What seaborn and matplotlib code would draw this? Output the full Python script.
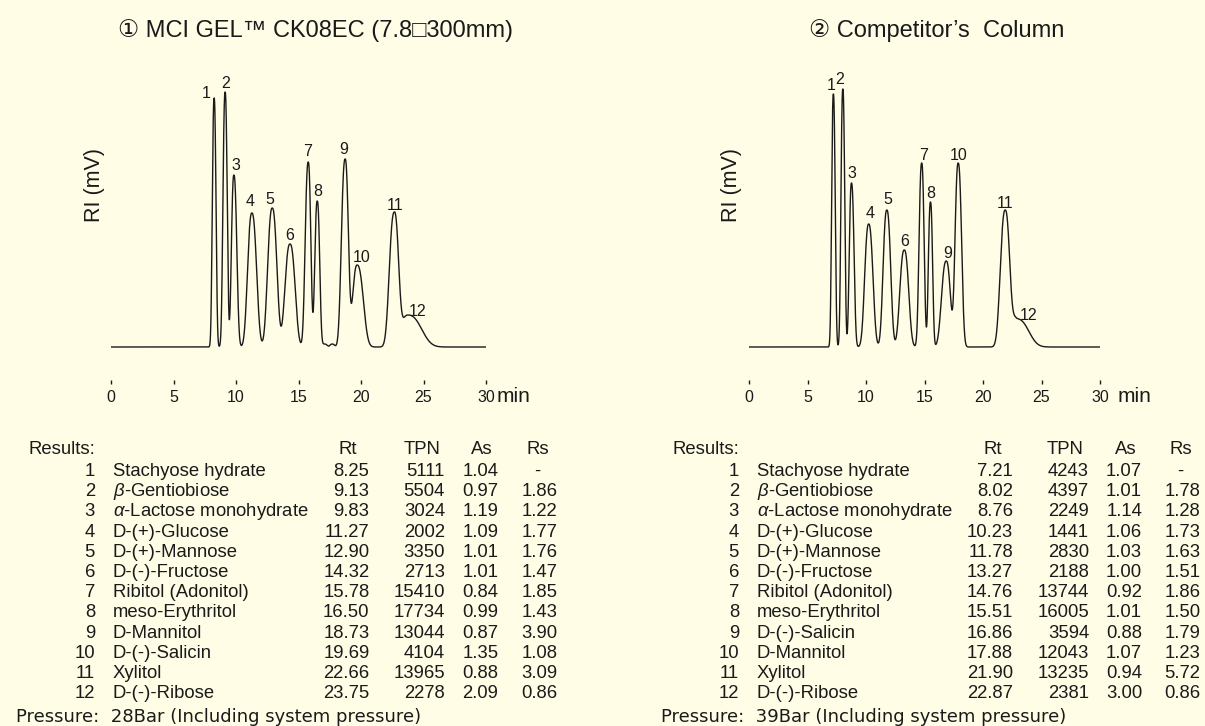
import numpy as np
import pandas as pd
import matplotlib
matplotlib.use("Agg")
import matplotlib.pyplot as plt
import seaborn as sns

# ---------------- data ----------------
peak_no = list(range(1, 13))

left_title = "\u2460 MCI GEL\u2122 CK08EC (7.8\u25a1300mm)"
left_names = ["Stachyose hydrate", "$\\beta$-Gentiobiose", "$\\alpha$-Lactose monohydrate",
              "D-(+)-Glucose", "D-(+)-Mannose", "D-(-)-Fructose", "Ribitol (Adonitol)",
              "meso-Erythritol", "D-Mannitol", "D-(-)-Salicin", "Xylitol", "D-(-)-Ribose"]
left_rt = [8.25, 9.13, 9.83, 11.27, 12.90, 14.32, 15.78, 16.50, 18.73, 19.69, 22.66, 23.75]
left_tpn = [5111, 5504, 3024, 2002, 3350, 2713, 15410, 17734, 13044, 4104, 13965, 2278]
left_as = [1.04, 0.97, 1.19, 1.09, 1.01, 1.01, 0.84, 0.99, 0.87, 1.35, 0.88, 2.09]
left_rs = ["-", "1.86", "1.22", "1.77", "1.76", "1.47", "1.85", "1.43", "3.90", "1.08", "3.09", "0.86"]
# apex heights (signal units) and visual peak widths at half height (min)
left_height = [249, 255, 172, 134, 139, 103, 185, 146, 188, 82, 135, 32]
left_fwhm = [0.33, 0.38, 0.48, 0.80, 0.82, 0.90, 0.50, 0.44, 0.62, 0.95, 0.82, 1.75]
left_minor_rt = [17.1, 17.7]
left_minor_h = [3, 3]
left_minor_w = [0.4, 0.4]
left_pressure = "Pressure:  28Bar (Including system pressure)"

right_title = "\u2461 Competitor\u2019s  Column"
right_names = ["Stachyose hydrate", "$\\beta$-Gentiobiose", "$\\alpha$-Lactose monohydrate",
               "D-(+)-Glucose", "D-(+)-Mannose", "D-(-)-Fructose", "Ribitol (Adonitol)",
               "meso-Erythritol", "D-(-)-Salicin", "D-Mannitol", "Xylitol", "D-(-)-Ribose"]
right_rt = [7.21, 8.02, 8.76, 10.23, 11.78, 13.27, 14.76, 15.51, 16.86, 17.88, 21.90, 22.87]
right_tpn = [4243, 4397, 2249, 1441, 2830, 2188, 13744, 16005, 3594, 12043, 13235, 2381]
right_as = [1.07, 1.01, 1.14, 1.06, 1.03, 1.00, 0.92, 1.01, 0.88, 1.07, 0.94, 3.00]
right_rs = ["-", "1.78", "1.28", "1.73", "1.63", "1.51", "1.86", "1.50", "1.79", "1.23", "5.72", "0.86"]
right_height = [253, 258, 164, 123, 137, 97, 184, 145, 86, 184, 137, 29]
right_fwhm = [0.34, 0.36, 0.45, 0.78, 0.72, 0.84, 0.48, 0.40, 0.85, 0.62, 0.90, 1.50]
right_pressure = "Pressure:  39Bar (Including system pressure)"

x_ticks = [0, 5, 10, 15, 20, 25, 30]

# ---------------- layout (pixels) ----------------
W, H = 1205, 726
BG = "#fffde6"
INK = "#1a1a1a"
FONT = ["Liberation Sans", "DejaVu Sans"]
SHAPE_P = 2.5  # flank exponent of the peak profile

sns.set_theme(style="white")
plt.rcParams["font.family"] = FONT
plt.rcParams["mathtext.fontset"] = "custom"
plt.rcParams["mathtext.rm"] = "Liberation Sans"
plt.rcParams["mathtext.it"] = "Liberation Sans:italic"
plt.rcParams["text.color"] = INK

fig = plt.figure(figsize=(W / 100, H / 100), dpi=100)
fig.patch.set_facecolor(BG)


def px_axes(x0, x1, y_top, y_bot):
    return fig.add_axes([x0 / W, 1 - y_bot / H, (x1 - x0) / W, (y_bot - y_top) / H])


def peak_shape(t, rt, fwhm, asym):
    hl = fwhm / (1 + asym)
    hr = fwhm * asym / (1 + asym)
    h = np.where(t < rt, hl, hr)
    return np.exp(-np.log(2) * np.abs((t - rt) / h) ** SHAPE_P)


def chromatogram(t, rts, heights, widths, asyms):
    rts = np.asarray(rts, float)
    M = np.array([[peak_shape(np.array(ri), rj, wj, aj) for rj, wj, aj in zip(rts, widths, asyms)]
                  for ri in rts])
    amps = np.linalg.solve(M, np.asarray(heights, float))
    return sum(a * peak_shape(t, r, w, s) for a, r, w, s in zip(amps, rts, widths, asyms))


def draw_panel(ax, rts, heights, widths, asyms, minor_rt, minor_h, minor_w,
               label_off, ylabel_x):
    t = np.linspace(0, 30, 3001)
    all_rt = list(rts) + list(minor_rt)
    all_h = list(heights) + list(minor_h)
    all_w = list(widths) + list(minor_w)
    all_a = list(asyms) + [1.0] * len(minor_rt)
    sig = chromatogram(t, all_rt, all_h, all_w, all_a)
    df = pd.DataFrame({"time": t, "signal": sig})
    sns.lineplot(data=df, x="time", y="signal", ax=ax, color=INK, linewidth=1.0,
                 estimator=None, sort=False)
    ax.set_facecolor(BG)
    ax.set_xlim(0, 30)
    ax.set_ylim(-37, 287)
    for s in ax.spines.values():
        s.set_visible(False)
    ax.set_xticks(x_ticks)
    ax.set_xticklabels([str(v) for v in x_ticks])
    ax.tick_params(axis="x", direction="in", length=3, width=1.0, color=INK,
                   pad=4.3, labelsize=11.5, labelcolor=INK, bottom=True)
    ax.set_yticks([])
    ax.set_xlabel("")
    ax.set_ylabel("RI (mV)", fontsize=15.5, color=INK)
    ax.yaxis.label.set_verticalalignment("center")
    ax.yaxis.set_label_coords(ylabel_x, 0.614)
    for n, r, h, (dx, dy) in zip(peak_no, rts, heights, label_off):
        ax.annotate(str(n), xy=(r, h), xytext=(dx * 0.72, dy * 0.72),
                    textcoords="offset points", ha="center", va="center",
                    fontsize=11.5, color=INK)


left_off = [(-8, 5), (0, 9), (2, 9), (-2, 11), (-2, 9), (0, 8), (-1, 11), (0, 10),
            (-1, 10), (5, 8), (1, 7), (10, 4)]
right_off = [(-2, 9), (-3, 9), (0, 9), (1, 10), (1, 10), (0, 8), (2, 7), (0, 8),
             (1, 8), (0, 7), (0, 7), (12, 3)]

axL = px_axes(111, 486, 60, 384)
draw_panel(axL, left_rt, left_height, left_fwhm, left_as, left_minor_rt, left_minor_h,
           left_minor_w, left_off, -0.045)
axR = px_axes(749, 1100, 60, 384)
draw_panel(axR, right_rt, right_height, right_fwhm, right_as, [], [], [],
           right_off, -0.051)


def ftext(x, y, s, **kw):
    return fig.text(x / W, 1 - y / H, s, **kw)


# titles
ftext(316, 37, left_title, ha="center", va="baseline", fontsize=17)
ftext(937, 37, right_title, ha="center", va="baseline", fontsize=17)
# "min"
ftext(497, 402.5, "min", ha="left", va="baseline", fontsize=15)
ftext(1118, 402.5, "min", ha="left", va="baseline", fontsize=15)

TFS = 13.3


def draw_table(names, rts, tpns, asyms, rss, pressure, cols):
    num_r, name_l, rt_r, tpn_r, as_r, rs_r, hdr, press_l = cols
    y_head = 454.0
    ftext(num_r, y_head, "Results:", ha="right", va="baseline", fontsize=TFS)
    for txt, cx in zip(["Rt", "TPN", "As", "Rs"], hdr):
        ftext(cx, y_head, txt, ha="center", va="baseline", fontsize=TFS)
    for i, (n, name, rt, tpn, a, rs) in enumerate(zip(peak_no, names, rts, tpns, asyms, rss)):
        y = 476.0 + i * 20.2
        ftext(num_r, y, str(n), ha="right", va="baseline", fontsize=TFS)
        ftext(name_l, y, name, ha="left", va="baseline", fontsize=TFS)
        ftext(rt_r, y, f"{rt:.2f}", ha="right", va="baseline", fontsize=TFS)
        ftext(tpn_r, y, str(tpn), ha="right", va="baseline", fontsize=TFS)
        ftext(as_r, y, f"{a:.2f}", ha="right", va="baseline", fontsize=TFS)
        if rs == "-":
            ftext(hdr[3], y, rs, ha="center", va="baseline", fontsize=TFS)
        else:
            ftext(rs_r, y, rs, ha="right", va="baseline", fontsize=TFS)
    ftext(press_l, 721.5, pressure, ha="left", va="baseline", fontsize=13,
          family=["DejaVu Sans"])


draw_table(left_names, left_rt, left_tpn, left_as, left_rs, left_pressure,
           (95, 113, 369.5, 445, 498.5, 557.5, (347.5, 422, 481.4, 537.7), 16))
draw_table(right_names, right_rt, right_tpn, right_as, right_rs, right_pressure,
           (739, 757, 1013, 1089, 1142, 1200.5, (992.4, 1064.9, 1125.5, 1180.6), 660.6))

fig.savefig("out.png", dpi=100, facecolor=BG)
